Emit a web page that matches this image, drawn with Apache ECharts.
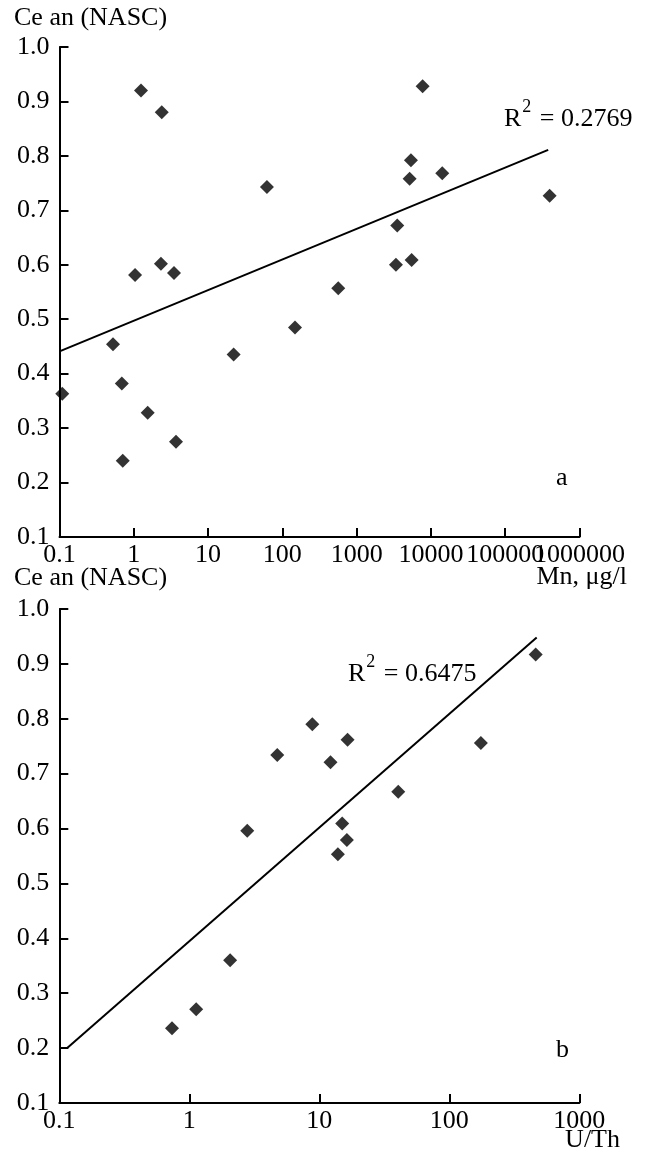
<!DOCTYPE html>
<html>
<head>
<meta charset="utf-8">
<script src="https://cdn.jsdelivr.net/npm/echarts@6/dist/echarts.min.js"></script>
<style>
html,body{margin:0;padding:0;background:#fff;}
#chart{width:645px;height:1168px;}
</style>
</head>
<body>
<div id="chart"></div>
<script>
// Panel a: Mn (µg/l) vs Ce anomaly
const mnX = [1.25, 2.38, 62, 1.04, 2.32, 3.48, 0.525, 22.1, 148, 0.69, 0.109, 1.54, 3.7, 0.71, 7730, 5380, 5170, 14200, 396000, 3520, 3380, 5500, 565];
const ceA = [0.92, 0.88, 0.743, 0.581, 0.602, 0.585, 0.454, 0.435, 0.485, 0.382, 0.363, 0.328, 0.275, 0.24, 0.928, 0.792, 0.758, 0.768, 0.727, 0.672, 0.60, 0.609, 0.557];
const trendAX = [0.1, 379000];
const trendAY = [0.441, 0.811];
const r2A = '0.2769';

// Panel b: U/Th vs Ce anomaly
const utX = [0.736, 1.13, 2.06, 2.79, 4.75, 8.84, 12.2, 16.5, 15.0, 16.3, 13.9, 40.5, 175, 462];
const ceB = [0.236, 0.271, 0.36, 0.596, 0.734, 0.790, 0.721, 0.762, 0.609, 0.579, 0.553, 0.667, 0.756, 0.917];
const trendBX = [0.115, 470];
const trendBY = [0.20, 0.948];
const r2B = '0.6475';

// Tick labels
const xTicksA = ['0.1', '1', '10', '100', '1000', '10000', '100000', '1000000'];
const xTicksB = ['0.1', '1', '10', '100', '1000'];
const yTicks = ['0.1', '0.2', '0.3', '0.4', '0.5', '0.6', '0.7', '0.8', '0.9', '1.0'];

const FONT = '"Liberation Serif", "Times New Roman", serif';
const FS = 26;

function pairs(xs, ys) { return xs.map((x, i) => [x, ys[i]]); }
function tickIndex(v) { return Math.round(Math.log10(v)) + 1; }

// keep: which tick indices this axis writes (the rest are written by an overlay axis,
// so that touching labels such as 10000/100000/1000000 are all kept, as in the original)
function xAxisFor(gridIndex, ticks, opts) {
  opts = opts || {};
  const keep = opts.keep || (() => true);
  return {
    type: 'log', logBase: 10, gridIndex: gridIndex, position: 'bottom',
    min: 0.1, max: Math.pow(10, ticks.length - 2),
    axisLine: { show: !opts.overlay, lineStyle: { color: '#000', width: 2 } },
    axisTick: { show: !opts.overlay, inside: true, length: 9, lineStyle: { color: '#000', width: 2 } },
    minorTick: { show: false },
    splitLine: { show: false },
    axisLabel: {
      color: '#000', fontFamily: FONT, fontSize: FS, margin: 5,
      showMinLabel: !opts.overlay, showMaxLabel: !opts.overlay,
      formatter: v => (keep(tickIndex(v)) ? ticks[tickIndex(v)] : '')
    }
  };
}
function yAxisFor(gridIndex) {
  return {
    type: 'value', gridIndex: gridIndex,
    min: 0.1, max: 1.0, interval: 0.1,
    axisLine: { show: true, lineStyle: { color: '#000', width: 2 } },
    axisTick: { show: true, inside: true, length: 9, lineStyle: { color: '#000', width: 2 } },
    splitLine: { show: false },
    axisLabel: {
      color: '#000', fontFamily: FONT, fontSize: FS, margin: 10,
      showMinLabel: true, showMaxLabel: true,
      formatter: v => yTicks[Math.round(v * 10) - 1]
    }
  };
}
const baseText = { color: '#000', fontFamily: FONT, fontSize: FS, fontWeight: 'normal' };
function textTitle(text, pos, extra) {
  return Object.assign({
    text: text, padding: 0,
    textStyle: Object.assign({}, baseText, extra || {})
  }, pos);
}
const r2Rich = {
  fontSize: 26, lineHeight: 34,
  rich: {
    m: { fontFamily: FONT, fontSize: 26, color: '#000', verticalAlign: 'bottom', lineHeight: 34 },
    sup: { fontFamily: FONT, fontSize: 18, color: '#000', verticalAlign: 'top', lineHeight: 34, padding: [0, 2, 0, 1] }
  }
};

const chart = echarts.init(document.getElementById('chart'), null, { renderer: 'canvas' });
chart.setOption({
  animation: false,
  backgroundColor: '#fff',
  title: [
    textTitle('Ce an (NASC)', { left: 14, top: 5 }),
    textTitle('Mn, μg/l', { right: 18, top: 564 }),
    textTitle('a', { left: 556, top: 465 }),
    textTitle('{m|R}{sup|2}{m| = ' + r2A + '}', { left: 504, top: 98 }, r2Rich),
    textTitle('Ce an (NASC)', { left: 14, top: 565 }),
    textTitle('U/Th', { right: 25, top: 1127 }),
    textTitle('b', { left: 556, top: 1037 }),
    textTitle('{m|R}{sup|2}{m| = ' + r2B + '}', { left: 348, top: 653 }, r2Rich)
  ],
  grid: [
    { left: 59.5, top: 47, width: 520, height: 490 },
    { left: 59.3, top: 609, width: 520, height: 494 }
  ],
  xAxis: [
    xAxisFor(0, xTicksA, { keep: i => i !== 6 }),
    xAxisFor(1, xTicksB),
    xAxisFor(0, xTicksA, { keep: i => i === 6, overlay: true })
  ],
  yAxis: [yAxisFor(0), yAxisFor(1)],
  series: [
    {
      type: 'scatter', xAxisIndex: 0, yAxisIndex: 0,
      symbol: 'diamond', symbolSize: 14,
      itemStyle: { color: '#000' },
      data: pairs(mnX, ceA)
    },
    {
      type: 'line', xAxisIndex: 0, yAxisIndex: 0,
      symbol: 'none', lineStyle: { color: '#000', width: 2 },
      data: pairs(trendAX, trendAY)
    },
    {
      type: 'scatter', xAxisIndex: 1, yAxisIndex: 1,
      symbol: 'diamond', symbolSize: 14,
      itemStyle: { color: '#000' },
      data: pairs(utX, ceB)
    },
    {
      type: 'line', xAxisIndex: 1, yAxisIndex: 1,
      symbol: 'none', lineStyle: { color: '#000', width: 2 },
      data: pairs(trendBX, trendBY)
    }
  ]
});
</script>
</body>
</html>
